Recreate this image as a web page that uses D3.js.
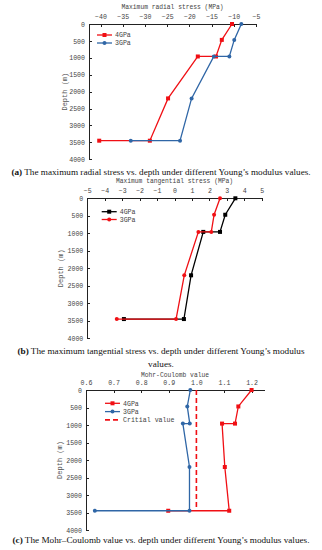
<!DOCTYPE html>
<html>
<head>
<meta charset="utf-8">
<style>
  body { margin: 0; background: #fff; }
  svg { display: block; }
  .axis path, .axis line { stroke: #222; shape-rendering: crispEdges; }
  .axis text { font-family: "Liberation Mono", monospace; font-size: 6.6px; fill: #444; }
  .title { font-family: "Liberation Mono", monospace; font-size: 6.3px; fill: #444; }
  .ylab { font-family: "Liberation Mono", monospace; font-size: 7px; fill: #555; }
  .legend { font-family: "Liberation Mono", monospace; font-size: 6.6px; fill: #444; }
  .caption { font-family: "Liberation Serif", serif; font-size: 9.2px; fill: #111; }
</style>
</head>
<body>
<script src="https://cdnjs.cloudflare.com/ajax/libs/d3/7.8.5/d3.min.js"></script>
<script>
var w = 322, h = 550;

// depth of each point (m), shared by all series
var depth = [0, 470, 960, 960, 2200, 3450, 3450];
var depthTicks = [0, 500, 1000, 1500, 2000, 2500, 3000, 3500, 4000];

// (a) maximum radial stress (MPa)
var radial4 = [-10.4, -12.7, -14.0, -18.1, -24.8, -28.9, -40.3];
var radial3 = [-8.3, -9.9, -11.0, -14.5, -19.5, -22.1, -33.2];
var radialTicks = [-40, -35, -30, -25, -20, -15, -10, -5];

// (b) maximum tangential stress (MPa)
var tang4 = [3.49, 2.91, 2.61, 1.65, 0.95, 0.54, -2.9];
var tang3 = [2.61, 2.27, 2.11, 1.37, 0.56, 0.09, -3.31];
var tangTicks = [-5, -4, -3, -2, -1, 0, 1, 2, 3, 4, 5];

// (c) Mohr-Coulomb value
var mc4 = [1.20, 1.152, 1.14, 1.093, 1.103, 1.119, 0.898];
var mc3 = [0.978, 0.967, 0.976, 0.951, 0.975, 0.975, 0.632];
var mcTicks = [0.6, 0.7, 0.8, 0.9, 1.0, 1.1, 1.2];
var critical = 1.0;

var red = "#f00f14", blue = "#2f66a6", black = "#000";

var svg = d3.select("body").append("svg")
    .attr("width", w).attr("height", h);

function panel(p) {
    var x = d3.scaleLinear().domain(p.xDomain).range(p.xRange);
    var y = d3.scaleLinear().domain([0, 4000]).range(p.yRange);
    var g = svg.append("g");

    g.append("text").attr("class", "title")
        .attr("x", (p.xRange[0] + p.xRange[1]) / 2).attr("y", p.titleY)
        .attr("text-anchor", "middle").text(p.title);

    g.append("g").attr("class", "axis")
        .attr("transform", "translate(0," + p.yRange[0] + ")")
        .call(d3.axisTop(x).tickValues(p.xTicks).tickSizeInner(-3).tickSizeOuter(0)
            .tickPadding(5).tickFormat(p.xFormat));

    g.append("g").attr("class", "axis")
        .attr("transform", "translate(" + p.xRange[0] + ",0)")
        .call(d3.axisLeft(y).tickValues(depthTicks).tickSizeInner(-3).tickSizeOuter(0)
            .tickPadding(4).tickFormat(d3.format("d")));

    g.append("text").attr("class", "ylab")
        .attr("transform", "translate(" + p.yLabelX + "," + (p.yRange[0] + p.yRange[1]) / 2 + ") rotate(-90)")
        .attr("text-anchor", "middle").text("Depth (m)");

    if (p.critical != null) {
        g.append("line")
            .attr("x1", x(p.critical)).attr("x2", x(p.critical))
            .attr("y1", y(0)).attr("y2", y(3450))
            .attr("stroke", red).attr("stroke-width", 1.6).attr("stroke-dasharray", "5,3");
    }

    var line = d3.line().x(function(d) { return x(d[0]); }).y(function(d) { return y(d[1]); });

    p.series.forEach(function(s) {
        var pts = s.values.map(function(v, i) { return [v, depth[i]]; });
        g.append("path").datum(pts)
            .attr("d", line).attr("fill", "none")
            .attr("stroke", s.color).attr("stroke-width", 1.3);
        marks(g, pts.map(function(d) { return [x(d[0]), y(d[1])]; }), s);
    });

    // legend
    var items = p.series.slice();
    if (p.critical != null) items.push({ name: "Critial value", color: red, dash: true });
    items.forEach(function(s, i) {
        var ly = p.legend[1] + i * p.legendStep;
        g.append("line")
            .attr("x1", p.legend[0]).attr("x2", p.legend[0] + 15)
            .attr("y1", ly).attr("y2", ly)
            .attr("stroke", s.color).attr("stroke-width", s.dash ? 1.6 : 1.3)
            .attr("stroke-dasharray", s.dash ? "5,3" : null);
        if (!s.dash) marks(g, [[p.legend[0] + 7.5, ly]], s);
        g.append("text").attr("class", "legend")
            .attr("x", p.legend[0] + 18).attr("y", ly + 2.3).text(s.name);
    });
}

function marks(g, pts, s) {
    if (s.shape === "square") {
        g.selectAll(null).data(pts).enter().append("rect")
            .attr("x", function(d) { return d[0] - 2; })
            .attr("y", function(d) { return d[1] - 2; })
            .attr("width", 4).attr("height", 4).attr("fill", s.color);
    } else {
        g.selectAll(null).data(pts).enter().append("circle")
            .attr("cx", function(d) { return d[0]; })
            .attr("cy", function(d) { return d[1]; })
            .attr("r", 2).attr("fill", s.color);
    }
}

panel({
    title: "Maximum radial stress (MPa)", titleY: 8.5,
    xDomain: [-42.6, -5], xRange: [89, 256], xTicks: radialTicks, xFormat: d3.format("d"),
    yRange: [24, 159.3], yLabelX: 67,
    legend: [97, 35], legendStep: 8,
    series: [
        { name: "4GPa", values: radial4, color: red, shape: "square" },
        { name: "3GPa", values: radial3, color: blue, shape: "circle" }
    ]
});

panel({
    title: "Maximum tangential stress (MPa)", titleY: 182.5,
    xDomain: [-5, 5], xRange: [87.3, 261.7], xTicks: tangTicks, xFormat: d3.format("d"),
    yRange: [198.3, 338.3], yLabelX: 63,
    legend: [101.7, 211.7], legendStep: 7.8,
    series: [
        { name: "4GPa", values: tang4, color: black, shape: "square" },
        { name: "3GPa", values: tang3, color: red, shape: "circle" }
    ]
});

panel({
    title: "Mohr-Coulomb value", titleY: 376.5,
    xDomain: [0.6, 1.245], xRange: [86, 264], xTicks: mcTicks, xFormat: d3.format(".1f"),
    yRange: [390, 530], yLabelX: 62,
    legend: [105, 403.3], legendStep: 8.3, critical: critical,
    series: [
        { name: "4GPa", values: mc4, color: red, shape: "square" },
        { name: "3GPa", values: mc3, color: blue, shape: "circle" }
    ]
});

// captions
var captions = [
    { y: 175, tag: "(a)", lines: [" The maximum radial stress vs. depth under different Young\u2019s modulus values."] },
    { y: 354, tag: "(b)", lines: [" The maximum tangential stress vs. depth under different Young\u2019s modulus", "values."] },
    { y: 543, tag: "(c)", lines: [" The Mohr\u2013Coulomb value vs. depth under different Young\u2019s modulus values."] }
];
captions.forEach(function(c) {
    var t = svg.append("text").attr("class", "caption")
        .attr("x", w / 2).attr("y", c.y).attr("text-anchor", "middle");
    t.append("tspan").attr("font-weight", "bold").text(c.tag);
    t.append("tspan").text(c.lines[0]);
    if (c.lines[1]) {
        svg.append("text").attr("class", "caption")
            .attr("x", w / 2).attr("y", c.y + 13).attr("text-anchor", "middle").text(c.lines[1]);
    }
});
</script>
</body>
</html>
